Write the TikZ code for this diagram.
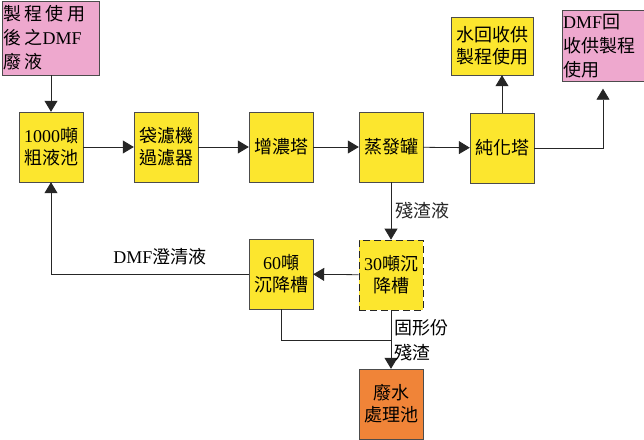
\documentclass[tikz,border=0pt]{standalone}
\usepackage{fontspec}
\setmainfont{Liberation Serif}
\newfontfamily\cjk{Noto Sans CJK TC}
\newfontfamily\cjkwide[LetterSpace=18]{Noto Sans CJK TC}
\newfontfamily\lat{Liberation Serif}
\usetikzlibrary{arrows.meta}

\definecolor{tankyellow}{RGB}{252,230,46}
\definecolor{dmfpink}{RGB}{238,168,206}
\definecolor{wwtorange}{RGB}{240,132,56}

\begin{document}
\begin{tikzpicture}[x=1pt, y=-1pt,
  box/.style={draw=black!70, thin, minimum width=64pt, minimum height=70pt,
    align=center, inner sep=1pt, font=\cjk\fontsize{18}{22}\selectfont},
  unit/.style={box, fill=tankyellow},
  note/.style={box, fill=dmfpink, align=left, font=\cjk\fontsize{18}{24}\selectfont},
  lbl/.style={inner sep=1pt, font=\cjk\fontsize{18}{25}\selectfont},
  arr/.style={-{Triangle[length=11pt, width=13pt]}, thick, black!85},
  line/.style={thick, black!85}]
  \useasboundingbox (0,0) rectangle (644,439);

  % feed and recovered streams
  \node[note, minimum width=97pt, minimum height=74pt, text width=95pt,
        font=\cjkwide\fontsize{18}{24}\selectfont]
        (feed) at (51,38) {製程使用\\後之{\lat DMF}\\廢液};
  \node[note, minimum width=82pt, minimum height=71pt, text width=80pt]
        (dmfback) at (603,46) {{\lat DMF}回\\收供製程\\使用};
  \node[unit, minimum width=82pt, minimum height=58pt] (water) at (492,46) {水回收供\\製程使用};

  % main line
  \node[unit] (tank1000) at (51,147) {{\lat 1000}噸\\粗液池};
  \node[unit] (bagfilter) at (166,147) {袋濾機\\過濾器};
  \node[unit] (thicken) at (281,147) {增濃塔};
  \node[unit] (evap) at (391,147) {蒸發罐};
  \node[unit] (purify) at (502,148) {純化塔};

  % settling and waste water
  \node[unit, draw=black!85, thick, dash pattern=on 7pt off 4pt] (settle30) at (391,275) {{\lat 30}噸沉\\降槽};
  \node[unit] (settle60) at (281,274) {{\lat 60}噸\\沉降槽};
  \node[box, fill=wwtorange] (wwt) at (391,404) {廢水\\處理池};

  \coordinate (merge) at (391,340);

  \draw[arr] (feed) -- (tank1000);
  \draw[arr] (tank1000) -- (bagfilter);
  \draw[arr] (bagfilter) -- (thicken);
  \draw[arr] (thicken) -- (evap);
  \draw[arr] (evap) -- (purify);
  \draw[arr] (purify.north) -- (purify.north |- water.south);
  \draw[arr] (purify.east) -| ([yshift=-7pt]dmfback.south);
  \draw[arr] (evap) -- (settle30) node[lbl, midway, right=3pt] {殘渣液};
  \draw[arr] (settle30) -- (settle60);
  \draw[arr] (settle60.west) -| (tank1000.south);
  \node[lbl] (clearlbl) at (160,257) {{\lat DMF}澄清液};
  \draw[line] (settle60.south) |- (merge);
  \draw[arr] (settle30) -- (wwt);
  \node[lbl, align=left, anchor=west] (solidlbl) at (393,340) {固形份\\殘渣};
\end{tikzpicture}
\end{document}
